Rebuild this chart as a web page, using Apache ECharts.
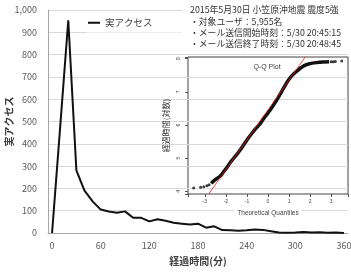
<!DOCTYPE html>
<html>
<head>
<meta charset="utf-8">
<script src="https://cdn.jsdelivr.net/npm/echarts@6/dist/echarts.min.js"></script>
<style>
html, body { margin: 0; padding: 0; background: #fff; }
#chart { width: 351px; height: 274px; }
</style>
</head>
<body>
<div id="chart"></div>
<script>
// 経過時間（10分刻み）と実アクセス数
var minutes = ['0', '10', '20', '30', '40', '50', '60', '70', '80', '90',
    '100', '110', '120', '130', '140', '150', '160', '170', '180', '190',
    '200', '210', '220', '230', '240', '250', '260', '270', '280', '290',
    '300', '310', '320', '330', '340', '350', '360'];
var access = [0, 475, 954, 281, 190, 142, 105, 96, 91, 97,
    68, 68, 52, 62, 55, 46, 42, 38, 42, 24,
    30, 13, 12, 10, 12, 16, 14, 8, 2, 1,
    2, 4, 2, 3, 1, 2, 0];

// Q-Q Plot（理論分位点 vs 経過時間の対数）
var qqX = [-2.7, -2.55, -2.4, -2.25, -2.1, -1.95, -1.8, -1.6, -1.4, -1.2, -1.0, -0.8, -0.6, -0.4, -0.2,
    0.0, 0.2, 0.4, 0.6, 0.8, 1.0, 1.2, 1.4, 1.6, 1.8, 2.0, 2.3, 2.6, 2.9];
var qqY = [4.24, 4.33, 4.40, 4.47, 4.60, 4.72, 4.86, 5.02, 5.18, 5.36, 5.55, 5.72, 5.88, 6.02, 6.20,
    6.36, 6.54, 6.74, 6.95, 7.18, 7.38, 7.53, 7.64, 7.74, 7.81, 7.85, 7.88, 7.90, 7.91];
var qqTailX = [-3.53, -3.2, -3.05, -2.9, -2.8, 3.0, 3.1, 3.2, 3.5];
var qqTailY = [4.10, 4.12, 4.14, 4.17, 4.20, 7.91, 7.91, 7.915, 7.93];
var refX = [-2.82, 1.77];
var refY = [3.92, 8.05];

var infoLines = [
    '2015年5月30日 小笠原沖地震 震度5強',
    '・対象ユーザ：5,955名',
    '・メール送信開始時刻：5/30 20:45:15',
    '・メール送信終了時刻：5/30 20:48:45'
];

function pairs(xs, ys) {
    var out = [];
    for (var i = 0; i < xs.length; i++) out.push([xs[i], ys[i]]);
    return out;
}

function intLabel(v) {
    return Math.abs(v - Math.round(v)) < 1e-6 ? String(Math.round(v)) : '';
}

var jp = '"Noto Sans CJK JP", sans-serif';
var en = '"Liberation Sans", Arial, sans-serif';

// 右上の説明テキスト（白背景）
var infoGraphics = [{
    type: 'rect',
    shape: { x: 182, y: 2, width: 169, height: 48 },
    style: { fill: '#fff' },
    z: 5
}];
var lineY = [10, 22, 33, 44];
for (var i = 0; i < infoLines.length; i++) {
    infoGraphics.push({
        type: 'text', x: 190, y: lineY[i], z: 6,
        style: { text: infoLines[i], font: '8.8px ' + jp, fill: '#333', verticalAlign: 'middle' }
    });
}
infoGraphics.push({
    type: 'text', x: 267, y: 67, z: 6,
    style: { text: 'Q-Q Plot', font: '7px ' + en, fill: '#444', align: 'center', verticalAlign: 'middle' }
});

var option = {
    animation: false,
    backgroundColor: '#fff',
    textStyle: { fontFamily: jp },
    legend: {
        data: ['実アクセス'],
        left: 86,
        top: 12,
        padding: [6, 32, 5, 2],
        backgroundColor: '#fff',
        icon: 'rect',
        itemWidth: 12,
        itemHeight: 2,
        textStyle: { fontSize: 9.5, color: '#404040', fontFamily: jp }
    },
    grid: [
        { left: 48, right: 3, top: 10, bottom: 41, containLabel: false, outerBoundsMode: 'none' },
        { left: 188, right: 3, top: 57, bottom: 80, containLabel: false, outerBoundsMode: 'none',
          show: true, borderColor: '#444', borderWidth: 1, backgroundColor: 'transparent' }
    ],
    xAxis: [{
        type: 'category',
        data: minutes,
        boundaryGap: true,
        axisLine: { lineStyle: { color: '#a6a6a6', width: 1 } },
        axisTick: { show: false },
        axisLabel: { interval: 5, fontSize: 9, color: '#595959', margin: 8, fontFamily: jp },
        name: '経過時間(分)',
        nameLocation: 'middle',
        nameGap: 23,
        nameMoveOverlap: false,
        nameTextStyle: { fontSize: 10, color: '#404040', fontWeight: 'bold', fontFamily: jp }
    }, {
        type: 'value',
        gridIndex: 1,
        min: -3.8,
        max: 3.8,
        splitNumber: 8,
        axisLine: { show: false, onZero: false },
        axisTick: { show: true, length: 3, lineStyle: { color: '#555' } },
        axisLabel: { fontSize: 5, color: '#444', margin: 5, fontFamily: en, formatter: intLabel },
        splitLine: { show: false },
        name: 'Theoretical Quantiles',
        nameLocation: 'middle',
        nameGap: 15,
        nameMoveOverlap: false,
        nameTextStyle: { fontSize: 6.5, color: '#444', fontFamily: en, backgroundColor: '#fff', padding: [1, 3] }
    }],
    yAxis: [{
        type: 'value',
        min: 0,
        max: 1000,
        interval: 100,
        axisLine: { show: true, lineStyle: { color: '#a6a6a6' } },
        axisTick: { show: false },
        splitLine: { lineStyle: { color: '#d9d9d9' } },
        axisLabel: {
            fontSize: 9, color: '#595959', margin: 11, fontFamily: jp,
            formatter: function (v) { return v.toLocaleString('en-US'); }
        },
        name: '実アクセス',
        nameLocation: 'middle',
        nameRotate: 90,
        nameGap: 34,
        nameMoveOverlap: false,
        nameTextStyle: { fontSize: 10, color: '#404040', fontWeight: 'bold', fontFamily: jp }
    }, {
        type: 'value',
        gridIndex: 1,
        min: 3.92,
        max: 8.05,
        axisLine: { show: false, onZero: false },
        axisTick: { show: true, length: 3, lineStyle: { color: '#555' } },
        axisLabel: { rotate: 90, fontSize: 5, color: '#444', margin: 7, fontFamily: en, formatter: intLabel },
        splitLine: { show: false },
        name: '経過時間(対数)',
        nameLocation: 'middle',
        nameRotate: 90,
        nameGap: 18,
        nameTextStyle: { fontSize: 8, color: '#333', fontFamily: jp }
    }],
    series: [{
        name: '実アクセス',
        type: 'line',
        data: access,
        showSymbol: false,
        lineStyle: { color: '#111', width: 2 },
        itemStyle: { color: '#111' }
    }, {
        type: 'line',
        xAxisIndex: 1,
        yAxisIndex: 1,
        data: pairs(qqX, qqY),
        showSymbol: false,
        smooth: true,
        lineStyle: { color: '#111', width: 3.5 }
    }, {
        type: 'scatter',
        xAxisIndex: 1,
        yAxisIndex: 1,
        data: pairs(qqTailX, qqTailY),
        symbolSize: 3,
        itemStyle: { color: '#111' }
    }, {
        type: 'line',
        xAxisIndex: 1,
        yAxisIndex: 1,
        data: pairs(refX, refY),
        showSymbol: false,
        lineStyle: { color: '#e02020', width: 0.8 },
        z: 5
    }],
    graphic: infoGraphics
};

var myChart = echarts.init(document.getElementById('chart'));
myChart.setOption(option, true);
</script>
</body>
</html>
